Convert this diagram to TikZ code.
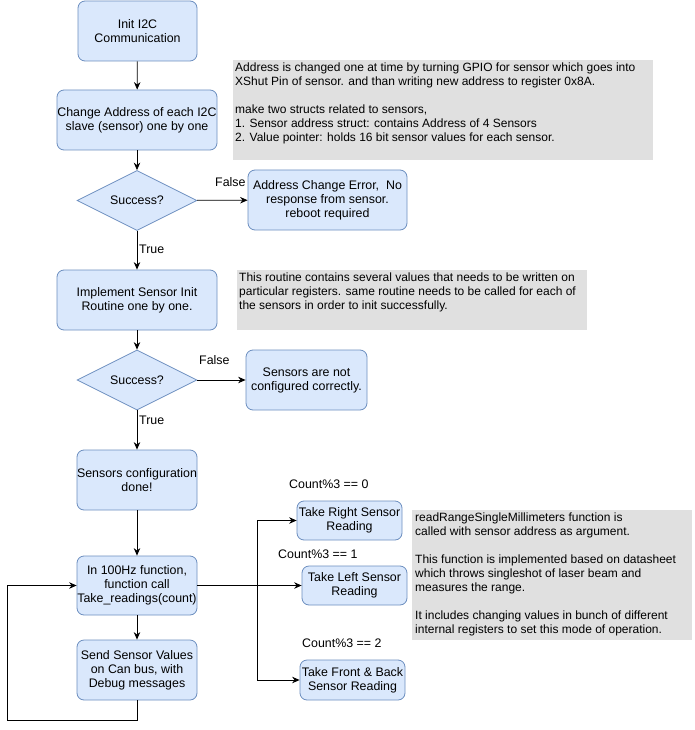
\documentclass[tikz,border=0pt]{standalone}
\usepackage{fontspec}
\setmainfont{Liberation Sans}
\usetikzlibrary{shapes.geometric,arrows.meta}
\definecolor{boxfill}{HTML}{DAE8FC}
\definecolor{boxline}{HTML}{6C8EBF}
\definecolor{notefill}{HTML}{E0E0E0}
\tikzset{
  every node/.style={font=\fontsize{12}{14}\selectfont},
  flowbox/.style={draw=boxline, fill=boxfill, rounded corners=7pt, align=center, inner sep=0pt, line width=0.8pt, font=\fontsize{12.4}{14}\selectfont},
  decision/.style={draw=boxline, fill=boxfill, shape=diamond, aspect=2, inner sep=0pt, minimum width=120pt, minimum height=60pt, line width=0.8pt, font=\fontsize{12.4}{14}\selectfont},
  notebox/.style={fill=notefill, inner sep=0pt},
  notetext/.style={align=left, inner sep=0pt, anchor=north west},
  arr/.style={-{Stealth[length=7.5pt,width=6.5pt,inset=2.5pt]}, line width=0.8pt},
  lbl/.style={inner sep=0pt, font=\fontsize{12.4}{14}\selectfont}
}
\begin{document}
\begin{tikzpicture}[x=1pt,y=-1pt]
\useasboundingbox (0,0) rectangle (694,730);
% notes
\node[notebox, minimum width=420pt, minimum height=100pt] (note1) at (443,110) {};
\node[notetext] (note1t) at (235,63) {Address is changed one at time by turning GPIO for sensor which goes into\\XShut Pin of sensor. and than writing new address to register 0x8A.\\[14pt]make two structs related to sensors,\\1. Sensor address struct: contains Address of 4 Sensors\\2. Value pointer: holds 16 bit sensor values for each sensor.};
\node[notebox, minimum width=350pt, minimum height=60pt] (note2) at (412,300) {};
\node[notetext] (note2t) at (239,273) {This routine contains several values that needs to be written on\\particular registers. same routine needs to be called for each of\\the sensors in order to init successfully.};
\node[notebox, minimum width=280pt, minimum height=130pt] (note3) at (552,575) {};
\node[notetext] (note3t) at (415,513) {readRangeSingleMillimeters function is\\called with sensor address as argument.\\[14pt]This function is implemented based on datasheet\\which throws singleshot of laser beam and\\measures the range.\\[14pt]It includes changing values in bunch of different\\internal registers to set this mode of operation.};
% main flow
\node[flowbox, minimum width=119pt, minimum height=60pt] (init) at (137.5,31) {Init I2C\\Communication};
\node[flowbox, minimum width=160pt, minimum height=60pt] (chg) at (137,120) {Change Address of each I2C\\slave (sensor) one by one};
\node[decision] (d1) at (137,200.5) {Success?};
\node[flowbox, minimum width=159pt, minimum height=60pt] (err) at (327.5,200) {Address Change Error,\ \ No\\response from sensor.\\reboot required};
\node[flowbox, minimum width=160pt, minimum height=60pt] (impl) at (137,300) {Implement Sensor Init\\Routine one by one.};
\node[decision] (d2) at (137,380) {Success?};
\node[flowbox, minimum width=121pt, minimum height=60pt] (notcfg) at (306.5,380) {Sensors are not\\configured correctly.};
\node[flowbox, minimum width=120pt, minimum height=60pt] (done) at (137,480) {Sensors configuration\\done!};
\node[flowbox, minimum width=120pt, minimum height=59pt] (hz) at (137,585.5) {In 100Hz function,\\function call\\Take\_readings(count)};
\node[flowbox, minimum width=120pt, minimum height=60pt] (send) at (137,670) {Send Sensor Values\\on Can bus, with\\Debug messages};
\node[flowbox, minimum width=105pt, minimum height=39pt] (right) at (349.5,520.5) {Take Right Sensor\\Reading};
\node[flowbox, minimum width=105pt, minimum height=39pt] (left) at (354.5,585.5) {Take Left Sensor\\Reading};
\node[flowbox, minimum width=105pt, minimum height=40pt] (fb) at (352.5,680) {Take Front \& Back\\Sensor Reading};
% labels
\node[lbl, anchor=west] (f1) at (215,182) {False};
\node[lbl, anchor=west] (t1) at (139,249) {True};
\node[lbl, anchor=west] (f2) at (199,360) {False};
\node[lbl, anchor=west] (t2) at (139,420) {True};
\node[lbl, anchor=west] (c0) at (289,484) {Count\%3 == 0};
\node[lbl, anchor=west] (c1) at (278,554) {Count\%3 == 1};
\node[lbl, anchor=west] (c2) at (302,643) {Count\%3 == 2};
% connectors
\draw[arr] (init) -- (chg);
\draw[arr] (chg) -- (d1);
\draw[arr] (d1) -- (err);
\draw[arr] (d1) -- (impl);
\draw[arr] (impl) -- (d2);
\draw[arr] (d2) -- (notcfg);
\draw[arr] (d2) -- (done);
\draw[arr] (done) -- (hz);
\draw[arr] (hz) -- (send);
\coordinate (br) at (257,585.5);
\draw[arr] (hz.east) -- (left.west);
\draw[arr] (hz.east) -- (br) |- (right.west);
\draw[arr] (br) |- (fb.west);
\coordinate (lb) at (137,720);
\coordinate (ll) at (7,720);
\draw[arr] (send.south) -- (lb) -- (ll) |- (hz.west);
\end{tikzpicture}
\end{document}
